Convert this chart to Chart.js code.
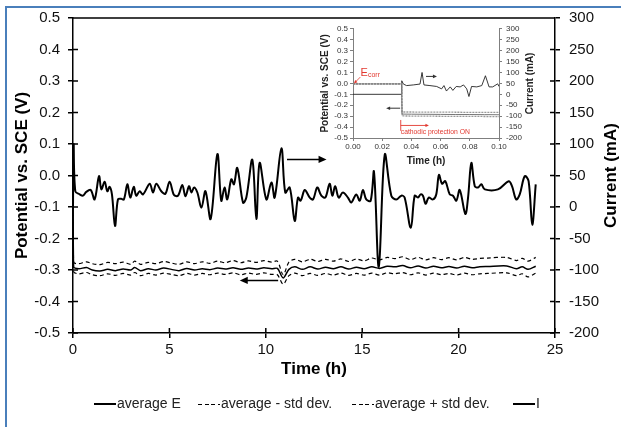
<!DOCTYPE html>
<html>
<head>
<meta charset="utf-8">
<script src="https://cdn.jsdelivr.net/npm/chart.js@4.4.1/dist/chart.umd.min.js"></script>
<style>
body { margin: 0; background: #fff; }
#wrap { position: relative; width: 621px; height: 427px; overflow: hidden; background: #fff; font-family: "Liberation Sans", Arial, sans-serif; }
#frameTop { position: absolute; left: 5px; top: 6px; width: 616px; height: 2px; background: #4a7fbb; }
#frameLeft { position: absolute; left: 5px; top: 6px; width: 2px; height: 421px; background: #4a7fbb; }
#mainChart { position: absolute; left: 0; top: 0; }
#insetChart { position: absolute; left: 300px; top: 20px; }
.lg { position: absolute; top: 394px; font-size: 14px; color: #222; line-height: 18px; white-space: nowrap; }
.lg i { display: inline-block; width: 22px; height: 2px; background: #000; vertical-align: middle; margin-right: 1px; }
.lg i.dash { height: 1.5px; background: repeating-linear-gradient(90deg, #000 0 4px, transparent 4px 6.5px); }
</style>
</head>
<body>
<div id="wrap">
  <canvas id="mainChart" width="621" height="427"></canvas>
  <canvas id="insetChart" width="240" height="155"></canvas>
  <div id="frameTop"></div>
  <div id="frameLeft"></div>
  <div class="lg" style="left:94px"><i></i>average E</div>
  <div class="lg" style="left:198px"><i class="dash"></i>average - std dev.</div>
  <div class="lg" style="left:352px"><i class="dash"></i>average + std dev.</div>
  <div class="lg" style="left:513px"><i></i>I</div>
</div>
<script>
// Tick labels
const timeTicks = [0, 5, 10, 15, 20, 25];
const potentialTicks = [-0.5, -0.4, -0.3, -0.2, -0.1, 0, 0.1, 0.2, 0.3, 0.4, 0.5];
const currentTicks = [-200, -150, -100, -50, 0, 50, 100, 150, 200, 250, 300];
const insetTimeTicks = [0, 0.02, 0.04, 0.06, 0.08, 0.1];

// Potential (V vs SCE), 24 h run
const potTime = [0, 0.03, 0.3, 0.7, 1.0, 1.4, 1.8, 2.2, 2.6, 3.0, 3.2, 3.5, 3.9, 4.3, 4.7, 5.1, 5.5, 5.9, 6.3, 6.7,
    7.1, 7.5, 7.9, 8.3, 8.7, 9.1, 9.5, 9.9, 10.3, 10.6, 10.9, 11.2, 11.5, 11.9, 12.3, 12.7, 13.1, 13.5, 13.9, 14.3,
    14.7, 15.1, 15.5, 15.9, 16.3, 16.7, 17.1, 17.5, 17.9, 18.3, 18.7, 19.1, 19.5, 19.9, 20.3, 20.7, 21.1, 21.5, 22.5, 23.0,
    23.3, 23.6, 24.0];
const potAvg = [-0.01, -0.29, -0.296, -0.292, -0.3, -0.303, -0.298, -0.302, -0.297, -0.3,
    -0.292, -0.302, -0.296, -0.3, -0.294, -0.298, -0.302, -0.295, -0.3, -0.296,
    -0.299, -0.294, -0.297, -0.293, -0.298, -0.294, -0.297, -0.293, -0.296, -0.295,
    -0.325, -0.298, -0.29, -0.298, -0.29, -0.297, -0.291, -0.296, -0.29, -0.297,
    -0.291, -0.296, -0.29, -0.295, -0.288, -0.29, -0.286, -0.293, -0.287, -0.294,
    -0.288, -0.293, -0.289, -0.294, -0.288, -0.293, -0.29, -0.289, -0.287, -0.296,
    -0.29, -0.298, -0.288];
const potLow = [-0.015, -0.305, -0.312, -0.308, -0.315, -0.318, -0.312, -0.317, -0.311, -0.316,
    -0.308, -0.318, -0.311, -0.316, -0.31, -0.314, -0.318, -0.311, -0.316, -0.311,
    -0.315, -0.31, -0.314, -0.309, -0.315, -0.31, -0.314, -0.309, -0.314, -0.315,
    -0.345, -0.318, -0.31, -0.318, -0.311, -0.317, -0.311, -0.316, -0.31, -0.317,
    -0.311, -0.316, -0.31, -0.316, -0.309, -0.312, -0.308, -0.315, -0.309, -0.316,
    -0.31, -0.315, -0.311, -0.316, -0.31, -0.315, -0.312, -0.311, -0.309, -0.318,
    -0.312, -0.322, -0.31];
const potHigh = [-0.005, -0.275, -0.28, -0.274, -0.28, -0.283, -0.276, -0.28, -0.275, -0.282,
    -0.272, -0.282, -0.276, -0.28, -0.273, -0.278, -0.282, -0.274, -0.28, -0.274,
    -0.279, -0.272, -0.277, -0.27, -0.277, -0.271, -0.276, -0.27, -0.275, -0.272,
    -0.315, -0.275, -0.266, -0.274, -0.266, -0.273, -0.266, -0.272, -0.265, -0.273,
    -0.265, -0.271, -0.262, -0.268, -0.26, -0.264, -0.258, -0.267, -0.26, -0.268,
    -0.261, -0.267, -0.261, -0.268, -0.26, -0.266, -0.263, -0.262, -0.26, -0.27,
    -0.263, -0.272, -0.26];

// Current (mA)
const curTime = [0, 0.033, 0.12, 0.35, 0.52, 0.69, 0.92, 1.12, 1.35, 1.47,
    1.64, 1.78, 1.9, 2.02, 2.18, 2.33, 2.5, 2.64, 2.82, 2.97,
    3.15, 3.28, 3.46, 3.63, 3.98, 4.15, 4.32, 4.58, 4.79, 5.01,
    5.24, 5.45, 5.67, 5.83, 6.02, 6.14, 6.28, 6.45, 6.66, 6.87,
    7.14, 7.49, 7.69, 7.86, 8.0, 8.21, 8.35, 8.52, 8.82, 8.99,
    9.3, 9.51, 9.68, 10.03, 10.29, 10.46, 10.81, 11.01, 11.24, 11.5,
    11.67, 11.81, 12.02, 12.28, 12.45, 12.67, 12.88, 13.09, 13.31, 13.45,
    13.6, 13.78, 14.0, 14.26, 14.43, 14.69, 14.87, 15.04, 15.21, 15.44,
    15.61, 15.86, 16.17, 16.51, 16.77, 17.03, 17.2, 17.52, 17.72, 17.89,
    18.03, 18.15, 18.29, 18.45, 18.67, 18.84, 18.98, 19.14, 19.31, 19.54,
    19.71, 19.88, 20.06, 20.35, 20.49, 20.66, 20.84, 21.01, 21.18, 21.36,
    22.04, 22.6, 22.77, 22.99, 23.17, 23.43, 23.63, 23.82, 24.0];
const curValues = [0, 100, 25, 20, 18, 24, 27, 12, 49, 28,
    40, 25, 32, 20, -30, 12, 13, 12, 36, 15,
    32, 18, 25, 20, 37, 23, 37, 25, 21, 40,
    19, 18, 35, 17, 33, 23, 31, 23, -1, 25,
    -19, 84, 10, 31, 12, 44, 36, 62, 7, 15,
    75, -19, 70, 12, 39, 15, 93, 23, 31, -22,
    15, 10, 27, 15, 12, 31, 18, 15, 37, 18,
    33, 15, 23, 15, 7, 20, 10, 27, 12, 10,
    56, -95, 83, 18, 12, 18, 15, -33, 18, 15,
    20, 18, 5, 15, 12, 20, 51, 37, 41, 20,
    18, 10, 27, -11, 15, 70, 33, 31, 36, 28,
    28, 41, 33, 12, 20, 49, 41, -28, 36];

// Inset: first 0.1 h
const insetPotTime = [0, 0.0333, 0.0336, 0.04, 0.05, 0.06, 0.07, 0.08, 0.09, 0.1];
const insetPotAvg = [-0.005, -0.005, -0.281, -0.282, -0.283, -0.284, -0.285, -0.285, -0.286, -0.287];
const insetPotHigh = [-0.005, -0.005, -0.262, -0.262, -0.263, -0.263, -0.264, -0.265, -0.265, -0.266];
const insetPotLow = [-0.005, -0.005, -0.298, -0.299, -0.3, -0.301, -0.302, -0.302, -0.303, -0.305];
const insetCurTime = [0, 0.0333, 0.0334, 0.0345, 0.0367, 0.0413, 0.0459, 0.0473, 0.0486, 0.0527,
    0.0573, 0.0607, 0.0623, 0.064, 0.0666, 0.0684, 0.0707, 0.0734, 0.0757, 0.0779,
    0.0794, 0.0812, 0.0848, 0.0882, 0.0907, 0.0932, 0.0957, 0.0991, 0.1];
const insetCurValues = [0, 0, 62, 47, 40, 43, 47, 100, 43, 40,
    36, 25, 40, 15, 34, 18, 36, 34, 43, 25,
    -10, 36, 34, 40, 85, 34, 34, 48, 36];

const fontFamily = '"Liberation Sans", Arial, sans-serif';
Chart.defaults.font.family = fontFamily;
Chart.defaults.color = '#111';

const series = (label, xs, ys, axis, color, width, dash, tension) => ({
    label: label,
    yAxisID: axis,
    data: xs.map((x, i) => ({ x: x, y: ys[i] })),
    borderColor: color,
    borderWidth: width,
    borderDash: dash,
    pointRadius: 0,
    tension: tension,
    fill: false,
});

const drawArrow = (ctx, x1, y1, x2, y2, color, lw, head) => {
    const ang = Math.atan2(y2 - y1, x2 - x1);
    ctx.save();
    ctx.strokeStyle = color;
    ctx.fillStyle = color;
    ctx.lineWidth = lw;
    ctx.beginPath();
    ctx.moveTo(x1, y1);
    ctx.lineTo(x2 - Math.cos(ang) * head * 0.8, y2 - Math.sin(ang) * head * 0.8);
    ctx.stroke();
    ctx.beginPath();
    ctx.moveTo(x2, y2);
    ctx.lineTo(x2 - head * Math.cos(ang) + head * 0.45 * Math.sin(ang), y2 - head * Math.sin(ang) - head * 0.45 * Math.cos(ang));
    ctx.lineTo(x2 - head * Math.cos(ang) - head * 0.45 * Math.sin(ang), y2 - head * Math.sin(ang) + head * 0.45 * Math.cos(ang));
    ctx.closePath();
    ctx.fill();
    ctx.restore();
};

// right axis title, read bottom to top like the left one
const upTitle = (ctx, text, x, y, font, color) => {
    ctx.save();
    ctx.translate(x, y);
    ctx.rotate(-Math.PI / 2);
    ctx.font = font;
    ctx.fillStyle = color;
    ctx.textAlign = 'center';
    ctx.textBaseline = 'middle';
    ctx.fillText(text, 0, 0);
    ctx.restore();
};

// cross ticks, top frame, arrows of the main chart
const mainDecor = {
    id: 'mainDecor',
    afterDraw(chart) {
        const { ctx, chartArea: a, scales } = chart;
        const { x, y, y1 } = scales;
        ctx.save();
        ctx.strokeStyle = '#000';
        ctx.lineWidth = 1.5;
        ctx.beginPath();
        x.ticks.forEach((t, i) => { const p = x.getPixelForTick(i); ctx.moveTo(p, a.bottom); ctx.lineTo(p, a.bottom - 5); });
        y.ticks.forEach((t, i) => { const p = y.getPixelForTick(i); ctx.moveTo(a.left, p); ctx.lineTo(a.left + 5, p); });
        y1.ticks.forEach((t, i) => { const p = y1.getPixelForTick(i); ctx.moveTo(a.right, p); ctx.lineTo(a.right - 5, p); });
        ctx.moveTo(a.left, a.top);
        ctx.lineTo(a.right, a.top);
        ctx.stroke();
        ctx.restore();
        drawArrow(ctx, x.getPixelForValue(11.1), y.getPixelForValue(0.051), x.getPixelForValue(13.15), y.getPixelForValue(0.051), '#000', 1.5, 8);
        drawArrow(ctx, x.getPixelForValue(10.64), y.getPixelForValue(-0.333), x.getPixelForValue(8.65), y.getPixelForValue(-0.333), '#000', 1.5, 8);
        upTitle(ctx, 'Current (mA)', y1.right - 10, (a.top + a.bottom) / 2, 'bold 17px ' + fontFamily, '#000');
    },
};

new Chart('mainChart', {
    type: 'line',
    data: {
        datasets: [
            series('average E', potTime, potAvg, 'y', '#000', 1.5, [], 0.3),
            series('average - std dev.', potTime, potLow, 'y', '#000', 1.2, [4, 3], 0.3),
            series('average + std dev.', potTime, potHigh, 'y', '#000', 1.2, [4, 3], 0.3),
            series('I', curTime, curValues, 'y1', '#000', 2, [], 0.35),
        ],
    },
    options: {
        responsive: false,
        animation: false,
        events: [],
        layout: { padding: { left: 8, top: 16, right: 0, bottom: 0 } },
        plugins: { legend: { display: false }, tooltip: { enabled: false } },
        scales: {
            x: {
                type: 'linear',
                min: 0,
                max: 25,
                afterBuildTicks: (s) => { s.ticks = timeTicks.map((v) => ({ value: v })); },
                afterFit: (s) => { s.height = 94; },
                border: { color: '#000', width: 1.5 },
                grid: { drawOnChartArea: false, color: '#000', lineWidth: 1.5, tickLength: 5 },
                ticks: { font: { size: 15 }, padding: 3, maxRotation: 0 },
                title: { display: true, text: 'Time (h)', color: '#000', font: { size: 17, weight: 'bold' }, padding: { top: 0, bottom: 47 } },
            },
            y: {
                position: 'left',
                min: -0.5,
                max: 0.5,
                afterBuildTicks: (s) => { s.ticks = potentialTicks.map((v) => ({ value: v })); },
                afterFit: (s) => { s.width = 65; },
                border: { color: '#000', width: 1.5 },
                grid: { drawOnChartArea: false, color: '#000', lineWidth: 1.5, tickLength: 5 },
                ticks: { font: { size: 15 }, padding: 8, autoSkip: false, callback: (v) => v.toFixed(1) },
                title: { display: true, text: 'Potential vs. SCE (V)', color: '#000', font: { size: 17, weight: 'bold' }, padding: { top: 4, bottom: 0 } },
            },
            y1: {
                position: 'right',
                min: -200,
                max: 300,
                afterBuildTicks: (s) => { s.ticks = currentTicks.map((v) => ({ value: v })); },
                afterFit: (s) => { s.width = 66; },
                border: { color: '#000', width: 1.5 },
                grid: { drawOnChartArea: false, color: '#000', lineWidth: 1.5, tickLength: 5 },
                ticks: { font: { size: 15 }, padding: 9, autoSkip: false },
            },
        },
    },
    plugins: [mainDecor],
});

// inset annotations
const red = '#e2382f';
const insetDecor = {
    id: 'insetDecor',
    afterDraw(chart) {
        const { ctx, chartArea: a, scales } = chart;
        const { x, y, y1 } = scales;
        drawArrow(ctx, x.getPixelForValue(0.05), y.getPixelForValue(0.064), x.getPixelForValue(0.0575), y.getPixelForValue(0.064), '#333', 1, 4);
        drawArrow(ctx, x.getPixelForValue(0.0323), y.getPixelForValue(-0.227), x.getPixelForValue(0.0227), y.getPixelForValue(-0.227), '#333', 1, 4);
        // E corr
        drawArrow(ctx, x.getPixelForValue(0.005), y.getPixelForValue(0.058), x.getPixelForValue(0.0006), y.getPixelForValue(-0.002), red, 0.8, 3.5);
        ctx.save();
        ctx.fillStyle = red;
        ctx.textBaseline = 'middle';
        ctx.font = '11px ' + fontFamily;
        const ex = x.getPixelForValue(0.0052);
        const ey = y.getPixelForValue(0.1);
        ctx.fillText('E', ex, ey);
        const ew = ctx.measureText('E').width;
        ctx.font = '7px ' + fontFamily;
        ctx.fillText('corr', ex + ew, ey + 3);
        // cathodic protection ON
        const cx = x.getPixelForValue(0.0327);
        ctx.strokeStyle = red;
        ctx.lineWidth = 0.9;
        ctx.beginPath();
        ctx.moveTo(cx, y.getPixelForValue(-0.335));
        ctx.lineTo(cx, y.getPixelForValue(-0.434));
        ctx.stroke();
        ctx.restore();
        drawArrow(ctx, cx, y.getPixelForValue(-0.385), x.getPixelForValue(0.052), y.getPixelForValue(-0.385), red, 0.9, 3.5);
        ctx.save();
        ctx.fillStyle = red;
        ctx.textBaseline = 'middle';
        ctx.font = '6.8px ' + fontFamily;
        ctx.fillText('cathodic protection ON', cx, y.getPixelForValue(-0.45));
        ctx.restore();
        upTitle(ctx, 'Current (mA)', y1.right - 10, (a.top + a.bottom) / 2, 'bold 10px ' + fontFamily, '#222');
    },
};

const insetGrey = '#7f7f7f';
new Chart('insetChart', {
    type: 'line',
    data: {
        datasets: [
            series('average E', insetPotTime, insetPotAvg, 'y', '#777', 1, [], 0),
            series('average - std dev.', insetPotTime, insetPotLow, 'y', '#999', 1.3, [2, 1], 0),
            series('average + std dev.', insetPotTime, insetPotHigh, 'y', '#999', 1.3, [2, 1], 0),
            series('I', insetCurTime, insetCurValues, 'y1', '#222', 0.9, [], 0),
        ],
    },
    options: {
        responsive: false,
        animation: false,
        events: [],
        layout: { padding: { left: 0, top: 7, right: 0, bottom: 0 } },
        plugins: { legend: { display: false }, tooltip: { enabled: false } },
        scales: {
            x: {
                type: 'linear',
                min: 0,
                max: 0.1,
                afterBuildTicks: (s) => { s.ticks = insetTimeTicks.map((v) => ({ value: v })); },
                afterFit: (s) => { s.height = 37; },
                border: { color: insetGrey, width: 1 },
                grid: { drawOnChartArea: false, color: insetGrey, tickLength: 3 },
                ticks: { color: '#333', font: { size: 8 }, padding: 1, maxRotation: 0, autoSkip: false, callback: (v) => v.toFixed(2) },
                title: { display: true, text: 'Time (h)', color: '#222', font: { size: 10, weight: 'bold' }, padding: { top: 0, bottom: 8 } },
            },
            y: {
                position: 'left',
                min: -0.5,
                max: 0.5,
                afterBuildTicks: (s) => { s.ticks = potentialTicks.map((v) => ({ value: v })); },
                afterFit: (s) => { s.width = 53; },
                border: { color: insetGrey, width: 1 },
                grid: { drawOnChartArea: false, color: insetGrey, tickLength: 3 },
                ticks: { color: '#333', font: { size: 8 }, padding: 2, autoSkip: false, callback: (v) => v.toFixed(1) },
                title: { display: true, text: 'Potential vs. SCE (V)', color: '#222', font: { size: 10, weight: 'bold' }, padding: { top: 19, bottom: 0 } },
            },
            y1: {
                position: 'right',
                min: -200,
                max: 300,
                afterBuildTicks: (s) => { s.ticks = currentTicks.map((v) => ({ value: v })); },
                afterFit: (s) => { s.width = 41; },
                border: { color: insetGrey, width: 1 },
                grid: { drawOnChartArea: false, color: insetGrey, tickLength: 3 },
                ticks: { color: '#333', font: { size: 8 }, padding: 4, autoSkip: false },
            },
        },
    },
    plugins: [insetDecor],
});
</script>
</body>
</html>
